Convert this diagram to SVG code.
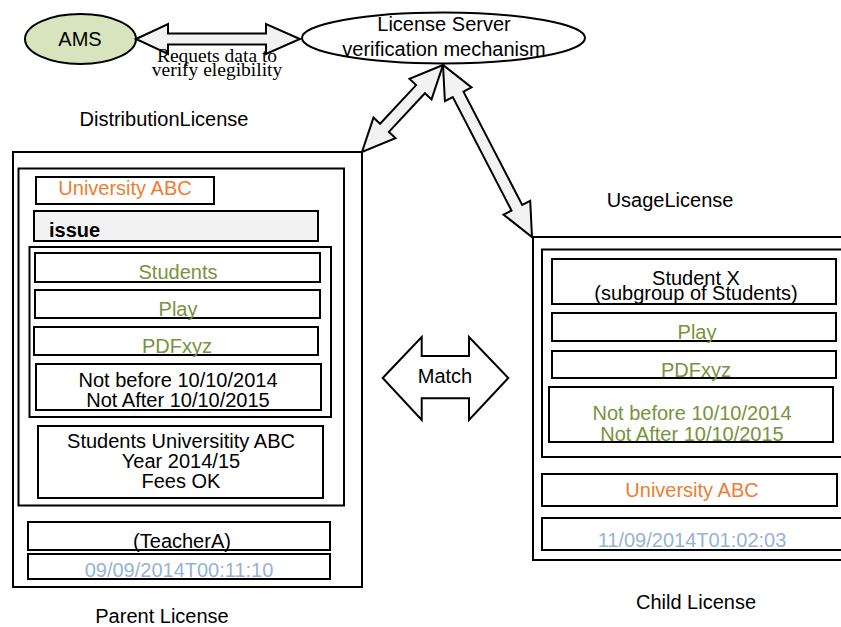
<svg xmlns="http://www.w3.org/2000/svg" width="841" height="627" viewBox="0 0 841 627">
<style>
text{font-family:"Liberation Sans",Arial,sans-serif;font-size:20px;fill:#000;text-anchor:middle}
.b{fill:#fff;stroke:#000;stroke-width:2}
.g{fill:#77933C}
.o{fill:#ED7D31}
.l{fill:#95B3D7}
.st{text-anchor:start;font-weight:bold}
.serif{font-family:"Liberation Serif","Times New Roman",serif;font-size:19.5px}
.arr{fill:#f2f2f2;stroke:#000;stroke-width:2;stroke-linejoin:miter}
</style>
<rect width="841" height="627" fill="#fff"/>
<g id="ams">
<ellipse cx="80.5" cy="39" rx="55.5" ry="25" fill="#D7E4BD" stroke="#000" stroke-width="2"/>
<text x="80" y="46">AMS</text>
</g>
<g id="server">
<ellipse cx="443.5" cy="38" rx="141.5" ry="25.5" class="b"/>
<text x="444" y="31">License Server</text>
<text x="444" y="56">verification mechanism</text>
</g>
<g id="connectors">
<polygon class="arr" points="136,39 168,24 168,33.5 266,33.5 266,24 300,39 266,54 266,44.5 168,44.5 168,54"/>
<text class="serif" x="217" y="62">Requets data to</text>
<text class="serif" x="217" y="76">verify elegibility</text>
<polygon class="arr" points="443,65 409.5,78.9 416.1,85.1 380.1,123.8 373.5,117.6 362,152 395.5,138.1 388.9,131.9 424.9,93.2 431.5,99.4"/>
<polygon class="arr" points="443,65 444.9,101.2 452.8,97.1 511.5,210.5 503.5,214.6 532,237 530.2,200.8 522.2,204.9 463.5,91.6 471.5,87.4"/>
<polygon fill="#fff" stroke="#000" stroke-width="2" points="382.7,378 421.7,337 421.7,356 469,356 469,337 508.3,378 469,420 469,398.3 421.7,398.3 421.7,420"/>
<text x="445" y="383">Match</text>
</g>
<g id="parent-license">
<text x="164" y="126">DistributionLicense</text>
<rect class="b" x="13" y="152" width="349" height="435"/>
<rect class="b" x="18.5" y="168.5" width="325.5" height="337"/>
<g id="p-issuer">
<rect class="b" x="36" y="177" width="178" height="27"/>
<text class="o" x="125" y="195">University ABC</text>
</g>
<g id="p-issue">
<rect x="34" y="211" width="284" height="30" fill="#f2f2f2" stroke="#000" stroke-width="2"/>
<text class="st" x="49" y="237">issue</text>
</g>
<g id="p-grant">
<rect class="b" x="29.5" y="247" width="301.5" height="170"/>
<rect class="b" x="35" y="253" width="285" height="29"/>
<text class="g" x="178" y="279">Students</text>
<rect class="b" x="35" y="290" width="285" height="28"/>
<text class="g" x="178" y="316">Play</text>
<rect class="b" x="34" y="327" width="284" height="28"/>
<text class="g" x="177" y="353">PDFxyz</text>
<rect class="b" x="36" y="364" width="285" height="46"/>
<text x="178" y="387">Not before 10/10/2014</text>
<text x="178" y="407">Not After 10/10/2015</text>
</g>
<g id="p-condition">
<rect class="b" x="38" y="426" width="285" height="72"/>
<text x="181" y="448">Students Universitity ABC</text>
<text x="181" y="468">Year 2014/15</text>
<text x="181" y="488">Fees OK</text>
</g>
<g id="p-teacher">
<rect class="b" x="28" y="522" width="302" height="28"/>
<text x="182" y="548">(TeacherA)</text>
</g>
<g id="p-time">
<rect class="b" x="28" y="554" width="302" height="25"/>
<text class="l" x="179" y="577">09/09/2014T00:11:10</text>
</g>
<text x="162" y="623">Parent License</text>
</g>
<g id="child-license">
<text x="670" y="207">UsageLicense</text>
<rect class="b" x="533" y="237" width="330" height="323"/>
<rect class="b" x="542" y="249.5" width="320" height="207.5"/>
<g id="c-principal">
<rect class="b" x="552" y="259" width="284" height="45"/>
<text x="696" y="285">Student X</text>
<text x="696" y="300">(subgroup of Students)</text>
</g>
<g id="c-right">
<rect class="b" x="552" y="313" width="284" height="28"/>
<text class="g" x="697" y="339">Play</text>
</g>
<g id="c-resource">
<rect class="b" x="552" y="351" width="284" height="27"/>
<text class="g" x="696" y="377">PDFxyz</text>
</g>
<g id="c-validity">
<rect class="b" x="549" y="387" width="284" height="55"/>
<text class="g" x="692" y="420">Not before 10/10/2014</text>
<text class="g" x="692" y="441">Not After 10/10/2015</text>
</g>
<g id="c-issuer">
<rect class="b" x="542" y="474" width="295" height="32"/>
<text class="o" x="692" y="497">University ABC</text>
</g>
<g id="c-time">
<rect class="b" x="542" y="518" width="310" height="32"/>
<text class="l" x="692" y="547">11/09/2014T01:02:03</text>
</g>
<text x="696" y="609">Child License</text>
</g>
</svg>
